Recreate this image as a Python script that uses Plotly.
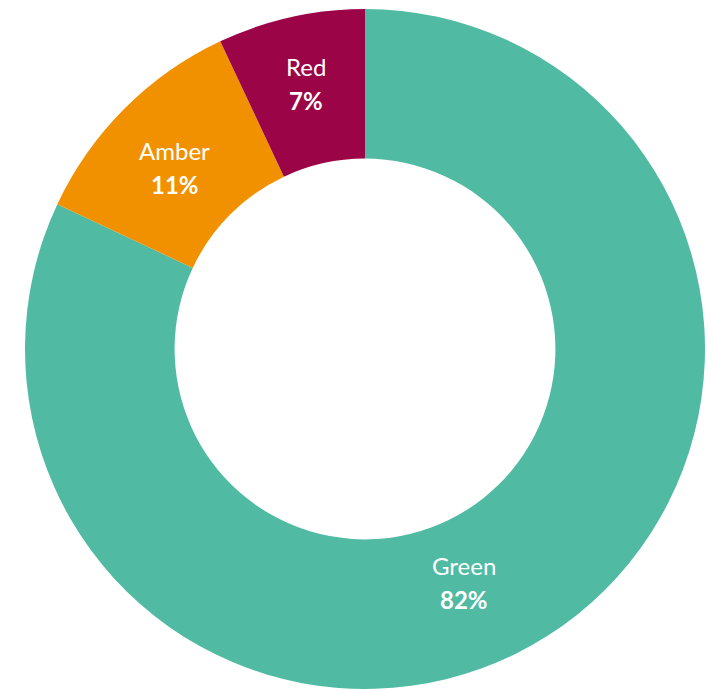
import math
import plotly.graph_objects as go

labels = ["Green", "Amber", "Red"]
values = [82, 11, 7]
colors = ["#50BAA3", "#F29100", "#9B0447"]

W, H = 708, 690
cx, cy = 365, 349          # donut centre in pixels
r_out = 340
hole = 0.56
# label placement tweaks: (extra angle in degrees, radius in pixels)
label_place = {"Green": (9.4, 254), "Amber": (-1.4, 263), "Red": (0.0, 272)}

fig = go.Figure(go.Pie(
    labels=labels,
    values=values,
    hole=hole,
    sort=False,
    direction="clockwise",
    rotation=0,
    marker=dict(colors=colors, line=dict(width=0)),
    textinfo="none",
    hoverinfo="label+percent",
    domain=dict(x=[(cx - r_out) / W, (cx + r_out) / W],
                y=[1 - (cy + r_out) / H, 1 - (cy - r_out) / H]),
    showlegend=False,
))

total = sum(values)
cum = 0
font_name = dict(family="Lato", size=24, color="white")
font_pct = dict(family="Lato", size=24, color="white")
for lab, v in zip(labels, values):
    da, rl = label_place[lab]
    mid = (cum + v / 2) / total * 360 + da
    cum += v
    th = math.radians(mid)
    px = cx + rl * math.sin(th)
    py = cy - rl * math.cos(th)
    xp, yp = px / W, 1 - py / H
    pct = round(v / total * 100)
    fig.add_annotation(x=xp, y=yp, xref="paper", yref="paper", text=lab,
                       showarrow=False, font=font_name, yshift=17,
                       xanchor="center", yanchor="middle")
    fig.add_annotation(x=xp, y=yp, xref="paper", yref="paper",
                       text=f"<b>{pct}%</b>", showarrow=False, font=font_pct,
                       yshift=-17, xanchor="center", yanchor="middle")

fig.update_layout(
    width=W, height=H,
    margin=dict(l=0, r=0, t=0, b=0),
    paper_bgcolor="white",
    plot_bgcolor="white",
)

fig.write_html("out.html")
